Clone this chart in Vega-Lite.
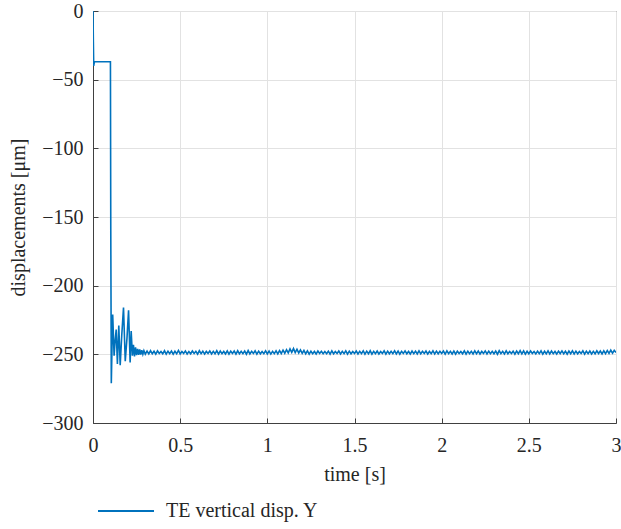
{
  "$schema": "https://vega.github.io/schema/vega-lite/v6.json",
  "width": 523,
  "height": 412,
  "autosize": {"type": "none"},
  "padding": {"left": 93, "top": 11, "right": 5, "bottom": 106},
  "background": "white",
  "config": {
    "font": "Liberation Serif",
    "view": {"stroke": "#404040", "strokeWidth": 1},
    "axis": {
      "domainColor": "#404040",
      "tickColor": "#404040",
      "gridColor": "#e2e2e2",
      "labelFont": "Liberation Serif",
      "labelFontSize": 20,
      "labelColor": "#262626",
      "titleFont": "Liberation Serif",
      "titleFontSize": 20,
      "titleFontWeight": "normal",
      "titleColor": "#262626",
      "tickSize": -5
    }
  },
  "data": {
    "values": [
      {"t": 0, "y": 0},
      {"t": 0.002, "y": -22},
      {"t": 0.004, "y": -40},
      {"t": 0.008, "y": -37},
      {"t": 0.1, "y": -37},
      {"t": 0.102, "y": -160},
      {"t": 0.105, "y": -271},
      {"t": 0.109, "y": -245},
      {"t": 0.113, "y": -221},
      {"t": 0.121, "y": -251},
      {"t": 0.127, "y": -240},
      {"t": 0.133, "y": -232},
      {"t": 0.14, "y": -257},
      {"t": 0.148, "y": -229},
      {"t": 0.156, "y": -258},
      {"t": 0.165, "y": -236},
      {"t": 0.175, "y": -216},
      {"t": 0.185, "y": -255},
      {"t": 0.195, "y": -238},
      {"t": 0.204, "y": -218},
      {"t": 0.213, "y": -256},
      {"t": 0.219, "y": -233},
      {"t": 0.226, "y": -251},
      {"t": 0.232, "y": -243},
      {"t": 0.238, "y": -251.5},
      {"t": 0.244, "y": -245},
      {"t": 0.25, "y": -250.5},
      {"t": 0.256, "y": -246},
      {"t": 0.262, "y": -250.3},
      {"t": 0.268, "y": -246.5},
      {"t": 0.274, "y": -250.1},
      {"t": 0.28, "y": -247},
      {"t": 0.286, "y": -249.9},
      {"t": 0.292, "y": -247.3},
      {"t": 0.3, "y": -249.8},
      {"t": 0.31, "y": -247.6},
      {"t": 0.32, "y": -249.7},
      {"t": 0.33, "y": -247.3},
      {"t": 0.34, "y": -249.6},
      {"t": 0.35, "y": -247.8},
      {"t": 0.36, "y": -249.9},
      {"t": 0.37, "y": -247.5},
      {"t": 0.38, "y": -249.4},
      {"t": 0.39, "y": -247.9},
      {"t": 0.4, "y": -249.6},
      {"t": 0.41, "y": -247.4},
      {"t": 0.42, "y": -249.8},
      {"t": 0.43, "y": -247.7},
      {"t": 0.44, "y": -249.5},
      {"t": 0.45, "y": -247.6},
      {"t": 0.46, "y": -249.9},
      {"t": 0.47, "y": -247.8},
      {"t": 0.48, "y": -249.6},
      {"t": 0.49, "y": -247.2},
      {"t": 0.5, "y": -249.7},
      {"t": 0.51, "y": -247.9},
      {"t": 0.52, "y": -249.3},
      {"t": 0.53, "y": -247.5},
      {"t": 0.54, "y": -249.8},
      {"t": 0.55, "y": -248.0},
      {"t": 0.56, "y": -249.6},
      {"t": 0.57, "y": -247.6},
      {"t": 0.58, "y": -249.4},
      {"t": 0.59, "y": -247.8},
      {"t": 0.6, "y": -249.9},
      {"t": 0.61, "y": -247.4},
      {"t": 0.62, "y": -249.5},
      {"t": 0.63, "y": -247.7},
      {"t": 0.64, "y": -249.8},
      {"t": 0.65, "y": -247.9},
      {"t": 0.66, "y": -249.4},
      {"t": 0.67, "y": -247.5},
      {"t": 0.68, "y": -249.7},
      {"t": 0.69, "y": -247.8},
      {"t": 0.7, "y": -249.6},
      {"t": 0.71, "y": -247.3},
      {"t": 0.72, "y": -249.8},
      {"t": 0.73, "y": -247.6},
      {"t": 0.74, "y": -249.5},
      {"t": 0.75, "y": -247.9},
      {"t": 0.76, "y": -249.7},
      {"t": 0.77, "y": -247.5},
      {"t": 0.78, "y": -249.9},
      {"t": 0.79, "y": -247.7},
      {"t": 0.8, "y": -249.4},
      {"t": 0.81, "y": -247.6},
      {"t": 0.82, "y": -249.8},
      {"t": 0.83, "y": -247.4},
      {"t": 0.84, "y": -249.6},
      {"t": 0.85, "y": -247.8},
      {"t": 0.86, "y": -249.5},
      {"t": 0.87, "y": -247.6},
      {"t": 0.88, "y": -249.9},
      {"t": 0.89, "y": -247.3},
      {"t": 0.9, "y": -249.7},
      {"t": 0.91, "y": -247.8},
      {"t": 0.92, "y": -249.4},
      {"t": 0.93, "y": -247.5},
      {"t": 0.94, "y": -249.8},
      {"t": 0.95, "y": -247.7},
      {"t": 0.96, "y": -249.6},
      {"t": 0.97, "y": -247.9},
      {"t": 0.98, "y": -249.5},
      {"t": 0.99, "y": -247.4},
      {"t": 1.0, "y": -249.7},
      {"t": 1.01, "y": -247.6},
      {"t": 1.02, "y": -249.8},
      {"t": 1.03, "y": -247.8},
      {"t": 1.04, "y": -249.5},
      {"t": 1.05, "y": -247.5},
      {"t": 1.06, "y": -249.7},
      {"t": 1.07, "y": -247.3},
      {"t": 1.08, "y": -249.4},
      {"t": 1.09, "y": -247.0},
      {"t": 1.1, "y": -249.2},
      {"t": 1.11, "y": -246.6},
      {"t": 1.12, "y": -248.9},
      {"t": 1.13, "y": -246.0},
      {"t": 1.14, "y": -248.6},
      {"t": 1.15, "y": -245.8},
      {"t": 1.16, "y": -248.8},
      {"t": 1.17, "y": -246.3},
      {"t": 1.18, "y": -249.0},
      {"t": 1.19, "y": -246.8},
      {"t": 1.2, "y": -249.3},
      {"t": 1.21, "y": -247.2},
      {"t": 1.22, "y": -249.6},
      {"t": 1.23, "y": -247.5},
      {"t": 1.24, "y": -249.8},
      {"t": 1.25, "y": -247.7},
      {"t": 1.26, "y": -249.5},
      {"t": 1.27, "y": -247.9},
      {"t": 1.28, "y": -249.7},
      {"t": 1.29, "y": -247.6},
      {"t": 1.3, "y": -249.4},
      {"t": 1.31, "y": -247.8},
      {"t": 1.32, "y": -249.6},
      {"t": 1.33, "y": -248.0},
      {"t": 1.34, "y": -249.5},
      {"t": 1.35, "y": -247.7},
      {"t": 1.36, "y": -249.8},
      {"t": 1.37, "y": -247.5},
      {"t": 1.38, "y": -249.6},
      {"t": 1.39, "y": -247.9},
      {"t": 1.4, "y": -249.4},
      {"t": 1.41, "y": -247.6},
      {"t": 1.42, "y": -249.7},
      {"t": 1.43, "y": -247.8},
      {"t": 1.44, "y": -249.5},
      {"t": 1.45, "y": -247.4},
      {"t": 1.46, "y": -249.8},
      {"t": 1.47, "y": -247.7},
      {"t": 1.48, "y": -249.6},
      {"t": 1.49, "y": -247.9},
      {"t": 1.5, "y": -249.4},
      {"t": 1.51, "y": -247.6},
      {"t": 1.52, "y": -249.7},
      {"t": 1.53, "y": -247.8},
      {"t": 1.54, "y": -249.5},
      {"t": 1.55, "y": -247.5},
      {"t": 1.56, "y": -249.9},
      {"t": 1.57, "y": -247.7},
      {"t": 1.58, "y": -249.6},
      {"t": 1.59, "y": -247.4},
      {"t": 1.6, "y": -249.8},
      {"t": 1.61, "y": -247.8},
      {"t": 1.62, "y": -249.5},
      {"t": 1.63, "y": -247.6},
      {"t": 1.64, "y": -249.7},
      {"t": 1.65, "y": -247.9},
      {"t": 1.66, "y": -249.4},
      {"t": 1.67, "y": -247.5},
      {"t": 1.68, "y": -249.8},
      {"t": 1.69, "y": -247.7},
      {"t": 1.7, "y": -249.6},
      {"t": 1.71, "y": -247.8},
      {"t": 1.72, "y": -249.5},
      {"t": 1.73, "y": -247.4},
      {"t": 1.74, "y": -249.7},
      {"t": 1.75, "y": -247.6},
      {"t": 1.76, "y": -249.9},
      {"t": 1.77, "y": -247.8},
      {"t": 1.78, "y": -249.4},
      {"t": 1.79, "y": -247.5},
      {"t": 1.8, "y": -249.6},
      {"t": 1.81, "y": -247.9},
      {"t": 1.82, "y": -249.8},
      {"t": 1.83, "y": -247.6},
      {"t": 1.84, "y": -249.5},
      {"t": 1.85, "y": -247.7},
      {"t": 1.86, "y": -249.7},
      {"t": 1.87, "y": -247.4},
      {"t": 1.88, "y": -249.6},
      {"t": 1.89, "y": -247.8},
      {"t": 1.9, "y": -249.4},
      {"t": 1.91, "y": -247.6},
      {"t": 1.92, "y": -249.8},
      {"t": 1.93, "y": -247.9},
      {"t": 1.94, "y": -249.5},
      {"t": 1.95, "y": -247.5},
      {"t": 1.96, "y": -249.7},
      {"t": 1.97, "y": -247.7},
      {"t": 1.98, "y": -249.6},
      {"t": 1.99, "y": -247.8},
      {"t": 2.0, "y": -249.4},
      {"t": 2.01, "y": -247.6},
      {"t": 2.02, "y": -249.8},
      {"t": 2.03, "y": -247.4},
      {"t": 2.04, "y": -249.5},
      {"t": 2.05, "y": -247.8},
      {"t": 2.06, "y": -249.7},
      {"t": 2.07, "y": -247.6},
      {"t": 2.08, "y": -249.9},
      {"t": 2.09, "y": -247.7},
      {"t": 2.1, "y": -249.4},
      {"t": 2.11, "y": -247.9},
      {"t": 2.12, "y": -249.6},
      {"t": 2.13, "y": -247.5},
      {"t": 2.14, "y": -249.8},
      {"t": 2.15, "y": -247.7},
      {"t": 2.16, "y": -249.5},
      {"t": 2.17, "y": -247.8},
      {"t": 2.18, "y": -249.7},
      {"t": 2.19, "y": -247.4},
      {"t": 2.2, "y": -249.6},
      {"t": 2.21, "y": -247.6},
      {"t": 2.22, "y": -249.8},
      {"t": 2.23, "y": -247.9},
      {"t": 2.24, "y": -249.4},
      {"t": 2.25, "y": -247.5},
      {"t": 2.26, "y": -249.7},
      {"t": 2.27, "y": -247.7},
      {"t": 2.28, "y": -249.5},
      {"t": 2.29, "y": -247.8},
      {"t": 2.3, "y": -249.6},
      {"t": 2.31, "y": -247.6},
      {"t": 2.32, "y": -249.9},
      {"t": 2.33, "y": -247.4},
      {"t": 2.34, "y": -249.5},
      {"t": 2.35, "y": -247.8},
      {"t": 2.36, "y": -249.7},
      {"t": 2.37, "y": -247.5},
      {"t": 2.38, "y": -249.6},
      {"t": 2.39, "y": -247.9},
      {"t": 2.4, "y": -249.4},
      {"t": 2.41, "y": -247.7},
      {"t": 2.42, "y": -249.8},
      {"t": 2.43, "y": -247.6},
      {"t": 2.44, "y": -249.5},
      {"t": 2.45, "y": -247.3},
      {"t": 2.46, "y": -249.7},
      {"t": 2.47, "y": -247.5},
      {"t": 2.48, "y": -249.9},
      {"t": 2.49, "y": -247.8},
      {"t": 2.5, "y": -249.6},
      {"t": 2.51, "y": -247.6},
      {"t": 2.52, "y": -249.4},
      {"t": 2.53, "y": -247.9},
      {"t": 2.54, "y": -249.7},
      {"t": 2.55, "y": -247.7},
      {"t": 2.56, "y": -249.5},
      {"t": 2.57, "y": -247.5},
      {"t": 2.58, "y": -249.8},
      {"t": 2.59, "y": -247.8},
      {"t": 2.6, "y": -249.6},
      {"t": 2.61, "y": -247.4},
      {"t": 2.62, "y": -249.7},
      {"t": 2.63, "y": -247.6},
      {"t": 2.64, "y": -249.5},
      {"t": 2.65, "y": -247.9},
      {"t": 2.66, "y": -249.8},
      {"t": 2.67, "y": -247.7},
      {"t": 2.68, "y": -249.4},
      {"t": 2.69, "y": -247.5},
      {"t": 2.7, "y": -249.6},
      {"t": 2.71, "y": -247.8},
      {"t": 2.72, "y": -249.9},
      {"t": 2.73, "y": -247.6},
      {"t": 2.74, "y": -249.5},
      {"t": 2.75, "y": -247.4},
      {"t": 2.76, "y": -249.7},
      {"t": 2.77, "y": -247.7},
      {"t": 2.78, "y": -249.6},
      {"t": 2.79, "y": -247.9},
      {"t": 2.8, "y": -249.4},
      {"t": 2.81, "y": -247.5},
      {"t": 2.82, "y": -249.8},
      {"t": 2.83, "y": -247.7},
      {"t": 2.84, "y": -249.5},
      {"t": 2.85, "y": -247.6},
      {"t": 2.86, "y": -249.7},
      {"t": 2.87, "y": -247.8},
      {"t": 2.88, "y": -249.6},
      {"t": 2.89, "y": -247.4},
      {"t": 2.9, "y": -249.4},
      {"t": 2.91, "y": -247.6},
      {"t": 2.92, "y": -249.7},
      {"t": 2.93, "y": -247.5},
      {"t": 2.94, "y": -249.5},
      {"t": 2.95, "y": -247.2},
      {"t": 2.96, "y": -249.3},
      {"t": 2.97, "y": -247.0},
      {"t": 2.98, "y": -249.2},
      {"t": 2.99, "y": -247.1},
      {"t": 3.0, "y": -248.6}
    ]
  },
  "mark": {"type": "line", "strokeWidth": 1.6, "clip": true},
  "encoding": {
    "x": {
      "field": "t",
      "type": "quantitative",
      "scale": {"domain": [0, 3], "nice": false, "zero": false},
      "axis": {
        "values": [0, 0.5, 1, 1.5, 2, 2.5, 3],
        "format": "~g",
        "title": "time [s]",
        "labelPadding": 17,
        "labelFlush": false,
        "titleY": 57,
        "titleBaseline": "alphabetic"
      }
    },
    "y": {
      "field": "y",
      "type": "quantitative",
      "scale": {"domain": [-300, 0], "nice": false, "zero": false},
      "axis": {
        "values": [-300, -250, -200, -150, -100, -50, 0],
        "title": "displacements [μm]",
        "labelPadding": 15,
        "labelFlush": false,
        "titleX": -75,
        "titleY": 206,
        "titleAngle": -90,
        "titleAlign": "center",
        "titleBaseline": "middle"
      }
    },
    "color": {
      "datum": "TE vertical disp. Y",
      "type": "nominal",
      "scale": {"range": ["#0072BD"]},
      "legend": {
        "title": null,
        "orient": "none",
        "legendX": 4,
        "legendY": 471,
        "padding": 0,
        "symbolType": "stroke",
        "symbolSize": 3136,
        "symbolStrokeWidth": 2,
        "labelFont": "Liberation Serif",
        "labelFontSize": 20,
        "labelColor": "#262626",
        "labelOffset": 11
      }
    }
  }
}
